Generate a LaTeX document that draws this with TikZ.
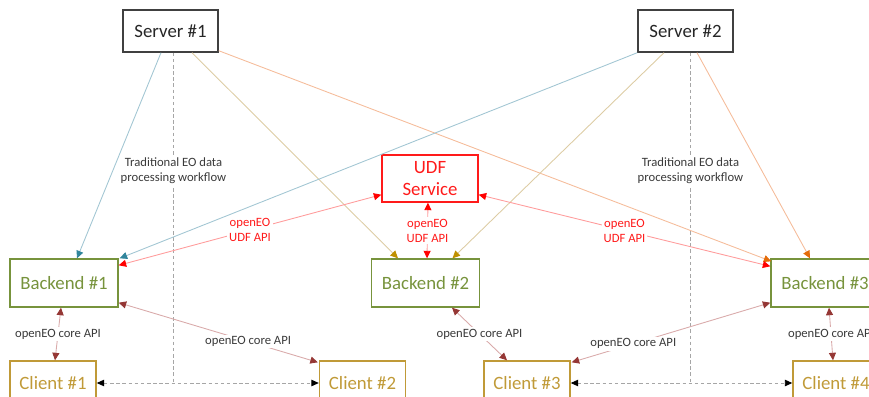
\documentclass[tikz,border=0pt]{standalone}
\usepackage{fontspec}
\setmainfont{Carlito}
\usetikzlibrary{calc,arrows.meta}

\definecolor{srvgrey}{HTML}{404040}
\definecolor{udfred}{HTML}{FF1A1A}
\definecolor{begreen}{HTML}{77933C}
\definecolor{clgold}{HTML}{C09A38}
\definecolor{labgrey}{HTML}{3A3A3A}
\definecolor{tealline}{HTML}{A2C6D3}
\definecolor{tealtip}{HTML}{31859C}
\definecolor{tanline}{HTML}{DDCCA4}
\definecolor{tantip}{HTML}{BF9000}
\definecolor{orgline}{HTML}{F5BC9A}
\definecolor{orgtip}{HTML}{E46C0A}
\definecolor{redline}{HTML}{FF9C9C}
\definecolor{redtip}{HTML}{FF0000}
\definecolor{brnline}{HTML}{D9AAAA}
\definecolor{brntip}{HTML}{953735}
\definecolor{flowgrey}{HTML}{A6A6A6}

\tikzset{
  bigbox/.style={draw, line width=0.8pt, font=\fontsize{10.7}{13}\selectfont, align=center, inner sep=0pt},
  srvbox/.style={bigbox, draw=srvgrey, text=black!85, minimum width=1.9cm, minimum height=0.84cm},
  udfbox/.style={bigbox, draw=udfred, text=udfred, minimum width=1.92cm, minimum height=0.94cm},
  bebox/.style={bigbox, draw=begreen, text=begreen, minimum width=2.16cm, minimum height=0.96cm},
  clbox/.style={bigbox, draw=clgold, text=clgold, minimum width=1.72cm, minimum height=0.88cm},
  tip/.style={Triangle[length=0.15cm, width=0.14cm, color=#1]},
  feed/.style={line width=0.5pt, draw=#1line, -{Triangle[length=0.15cm, width=0.14cm, color=#1tip]}},
  api/.style={line width=0.5pt, draw=#1line, {Triangle[length=0.15cm, width=0.14cm, color=#1tip]}-{Triangle[length=0.15cm, width=0.14cm, color=#1tip]}},
  flow/.style={line width=0.5pt, draw=flowgrey, dash pattern=on 2pt off 1.5pt},
  flowarr/.style={flow, {Triangle[length=0.15cm, width=0.13cm, color=black]}-{Triangle[length=0.15cm, width=0.13cm, color=black]}},
  lab/.style={fill=white, inner sep=1pt, align=center, font=\fontsize{7.2}{8.6}\selectfont, text=labgrey},
  udflab/.style={lab, text=udfred}
}

\begin{document}
\begin{tikzpicture}[x=0.02cm, y=-0.02cm]
  \useasboundingbox (0,0) rectangle (869,396);
  \clip (0,0) rectangle (869,396);

  %%%%% boxes %%%%%
  \node[srvbox] (srv1) at (170.5,31) {Server \#1};
  \node[srvbox] (srv2) at (685.5,31) {Server \#2};
  \node[udfbox] (udf) at (430,178.5) {UDF\\Service};

  \node[bebox] (be1) at (64,283) {Backend \#1};
  \node[bebox] (be2) at (425.5,283) {Backend \#2};
  \node[bebox] (be3) at (825,283) {Backend \#3};

  \node[clbox] (cl1) at (53,383) {Client \#1};
  \node[clbox] (cl2) at (362.5,383) {Client \#2};
  \node[clbox] (cl3) at (527,383) {Client \#3};
  \node[clbox] (cl4) at (836,383) {Client \#4};

  %%%%% traditional workflow %%%%%
  \coordinate (wf1) at ($(srv1.south)+(3,0)$);
  \coordinate (wf2) at ($(srv2.south)+(5,0)$);
  \draw[flow] (wf1) -- (wf1 |- cl1.east)
    node[lab, pos=0.356] {Traditional EO data\\processing workflow};
  \draw[flow] (wf2) -- (wf2 |- cl3.east)
    node[lab, pos=0.356] {Traditional EO data\\processing workflow};
  \draw[flowarr] (cl1.east) -- (cl2.west);
  \draw[flowarr] (cl3.east) -- (cl4.west);

  %%%%% server feeds %%%%%
  \draw[feed=teal] ($(srv1.south)+(-9.5,0)$) -- ($(be1.north)+(13,0)$);
  \draw[feed=tan] ($(srv1.south)+(21.5,0)$) -- ($(be2.north)+(-27.5,0)$);
  \draw[feed=org] ($(srv1.south east)+(0,-2)$) -- ($(be3.north west)+(1,3)$);

  \draw[feed=teal] (srv2.south west) -- ($(be1.north east)+(1,0)$);
  \draw[feed=tan] ($(srv2.south)+(-21.5,0)$) -- ($(be2.north)+(27,0)$);
  \draw[feed=org] ($(srv2.south)+(11.5,0)$) -- ($(be3.north)+(-15,0)$);

  %%%%% UDF API %%%%%
  \draw[api=red] ($(udf.south west)+(0,-8)$) -- ($(be1.north east)+(0,7)$)
    node[udflab, pos=0.5] {openEO\\UDF API};
  \draw[api=red] ($(udf.south)+(-2,0)$) -- ($(be2.north)+(1.5,0)$)
    node[udflab, pos=0.5] {openEO\\UDF API};
  \draw[api=red] ($(udf.south east)+(0,-8)$) -- ($(be3.north west)+(0,8)$)
    node[udflab, pos=0.5] {openEO\\UDF API};

  %%%%% core API %%%%%
  \draw[api=brn] ($(be1.south)+(-3,0)$) -- ($(cl1.north)+(2,0)$)
    node[lab, pos=0.5] {openEO core API};
  \draw[api=brn] ($(be1.south east)+(0,-5)$) -- ($(cl2.north west)+(-1,2)$)
    node[lab, pos=0.65] {openEO core API};
  \draw[api=brn] ($(be2.south)+(26.5,0)$) -- ($(cl3.north)+(-20,0)$)
    node[lab, pos=0.5] {openEO core API};
  \draw[api=brn] ($(be3.south west)+(0,-5)$) -- ($(cl3.north east)+(1,2)$)
    node[lab, pos=0.69] {openEO core API};
  \draw[api=brn] ($(be3.south)+(4,0)$) -- ($(cl4.north)+(-3,0)$)
    node[lab, pos=0.5] {openEO core API};
\end{tikzpicture}
\end{document}
